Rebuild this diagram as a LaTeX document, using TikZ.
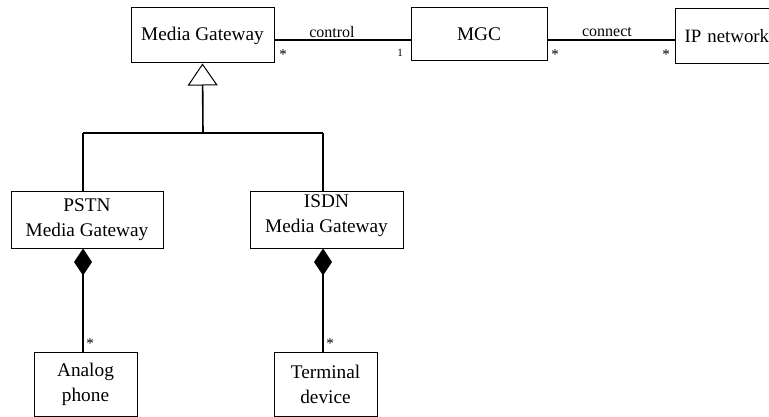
\documentclass[tikz,border=0pt]{standalone}
\usepackage{fontspec}
\setmainfont{Liberation Serif}
\usetikzlibrary{arrows.meta}
\begin{document}
\begin{tikzpicture}[x=1pt,y=-1pt,
  box/.style={draw,line width=1pt,inner sep=0pt,align=center,
    font=\fontsize{19.3}{25}\selectfont},
  conn/.style={line width=1.6pt},
  mult/.style={inner sep=0pt,font=\fontsize{15}{17}\selectfont},
  role/.style={inner sep=0pt,font=\fontsize{16}{18}\selectfont}]
\clip (0,0) rectangle (769,417);
\useasboundingbox (0,0) rectangle (769,417);
% boxes
\node[box,minimum width=143,minimum height=55] (mg) at (202.5,35.5) {Media Gateway};
\node[box,minimum width=136,minimum height=53] (mgc) at (479,34.5) {MGC};
\node[box,anchor=north west,minimum width=150,minimum height=55,text width=132,
  inner xsep=9,align=left,font=\fontsize{18.8}{25}\selectfont] (ip) at (675,8) {IP network};
\node[box,minimum width=152,minimum height=56] (pstn) at (87,220) {PSTN\\Media Gateway};
\node[box,minimum width=153,minimum height=56] (isdn) at (326.5,220) {};
\node[inner sep=0pt,align=center,font=\fontsize{19.3}{25}\selectfont] (isdnt)
  at ([yshift=4pt]isdn.center) {ISDN\\Media Gateway};
\node[box,minimum width=103,minimum height=64] (analog) at (85.5,384) {Analog\\phone};
\node[box,minimum width=103,minimum height=64] (term) at (325.5,384) {Terminal\\device};
% associations
\draw[conn] ([yshift=-4.5pt]mg.east) -- ([yshift=-4.5pt]mg.east -| mgc.west);
\draw[conn] ([yshift=-5.5pt]mgc.east) -- ([yshift=-5.5pt]mgc.east -| ip.west);
\node[role] (lcontrol) at (332,32) {control};
\node[role] (lconnect) at (607,32) {connect};
\node[mult] (m1) at (283,55) {*};
\node[mult,font=\fontsize{11}{13}\selectfont] (m2) at (400,53) {1};
\node[mult] (m3) at (555,55) {*};
\node[mult] (m4) at (666,55) {*};
% generalization
\coordinate (j) at (203,133);
\coordinate (jL) at (83,133);
\coordinate (jR) at (323,133);
\draw[conn,{Triangle[open,length=22pt,width=30pt,line width=1pt,fill=white]}-]
  (mg.south) -- (j);
\draw[conn] (jL) -- (jR);
\draw[conn] (jL) -- (jL |- pstn.north);
\draw[conn] (jR) -- (jR |- isdn.north);
% compositions
\draw[conn,{Diamond[length=27pt,width=18pt]}-] (jL |- pstn.south) -- (jL |- analog.north);
\draw[conn,{Diamond[length=27pt,width=18pt]}-] (jR |- isdn.south) -- (jR |- term.north);
\node[mult] (m5) at (90,344) {*};
\node[mult] (m6) at (330,344) {*};
\end{tikzpicture}
\end{document}
